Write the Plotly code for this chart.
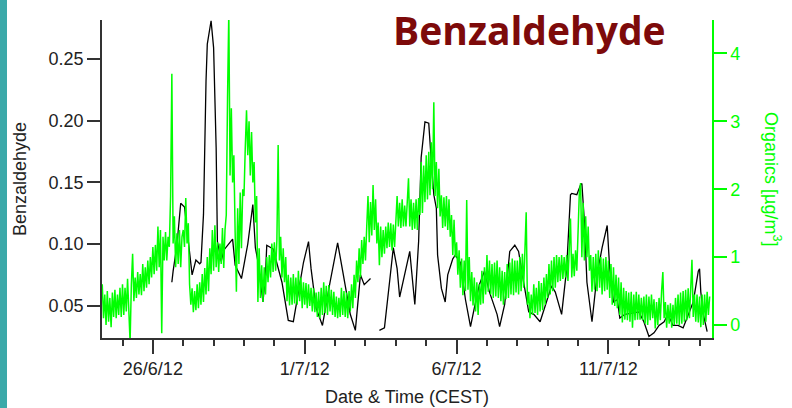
import pandas as pd
import plotly.graph_objects as go

# --- Organics (right axis), hourly values from 24/6/12 08:00 ---
organics_start = "2012-06-24 08:00"
organics = [
    # 24/6 (08:00-23:00)
    0.60, 0.10, 0.45, 0.00, 0.50, 0.05, 0.40, -0.03, 0.48, 0.12, 0.52, 0.10, 0.45, 0.15, 0.55, 0.12,
    # 25/6
    0.60, 0.15, 0.55, 0.20, 0.68, 0.25, -0.25, 0.60, 1.05, 0.35, 0.70, 0.40,
    0.78, 0.45, 0.75, 0.44, 0.90, 0.50, 0.85, 0.55, 0.95, 0.60, 1.00, 0.70,
    # 26/6
    1.15, 0.75, 1.18, 0.80, 1.45, 0.85, 1.40, -0.12, 1.30, 0.95, 1.37, 0.95,
    1.30, 1.15, 1.90, 3.70, 1.20, 1.60, 0.85, 1.35, 0.90, 1.40, 0.85, 1.30,
    # 27/6
    1.40, 1.15, 1.87, 1.20, 1.50, 0.60, 0.30, 0.54, 0.19, 0.50, 0.22, 0.60,
    0.25, 0.63, 0.30, 0.75, 0.34, 0.84, 0.45, 1.00, 0.50, 1.13, 0.75, 1.40,
    # 28/6
    0.80, 1.47, 0.85, 1.22, 0.78, 1.20, 0.90, 1.43, 0.84, 1.40, 1.62, 3.34,
    4.60, 2.20, 3.19, 2.10, 2.50, 1.37, 0.49, 1.72, 0.90, 1.95, 1.13, 2.00,
    # 29/6
    1.90, 2.60, 3.16, 2.50, 3.00, 2.20, 2.84, 2.10, 2.40, 1.51, 1.90, 0.34,
    1.13, 0.40, 0.88, 0.34, 0.85, 0.45, 1.00, 0.63, 1.03, 0.70, 1.20, 0.78,
    # 30/6
    1.22, 0.80, 1.25, 2.65, 0.95, 1.30, 0.70, 1.13, 0.63, 1.00, 0.35, 0.74,
    0.29, 0.70, 0.30, 0.75, 0.32, 0.70, 0.30, 0.80, 0.35, 0.70, 0.25, 0.63,
    # 1/7
    0.30, 0.62, 0.25, 0.60, 0.28, 0.55, 0.20, 0.54, 0.19, 0.48, 0.12, 0.49,
    0.10, 0.55, 0.15, 0.63, 0.18, 0.58, 0.15, 0.59, 0.20, 0.52, 0.15, 0.49,
    # 2/7
    0.12, 0.42, 0.10, 0.40, 0.12, 0.55, 0.15, 0.50, 0.12, 0.48, 0.10, 0.50,
    0.20, 0.60, 0.25, 0.74, 0.40, 0.95, 0.63, 1.13, 0.70, 1.25, 0.90, 1.30,
    # 3/7
    0.95, 1.45, 1.90, 1.22, 1.81, 1.32, 2.06, 1.40, 1.85, 1.20, 1.51, 0.88,
    1.45, 1.00, 1.40, 1.05, 1.45, 1.13, 1.51, 1.15, 1.50, 1.10, 1.48, 1.15,
    # 4/7
    1.45, 1.90, 1.45, 1.80, 1.43, 1.85, 1.45, 1.76, 1.45, 1.80, 2.16, 1.45,
    1.85, 1.40, 1.80, 1.42, 1.85, 1.40, 1.87, 1.62, 2.40, 1.65, 2.35, 1.81,
    # 5/7
    2.50, 1.85, 2.55, 1.91, 2.69, 2.00, 3.28, 1.90, 2.40, 1.72, 2.30, 1.60,
    1.91, 1.43, 1.88, 1.45, 1.90, 1.40, 1.85, 1.30, 1.62, 1.03, 1.55, 1.00,
    # 6/7
    1.22, 0.74, 1.10, 0.55, 0.98, 0.44, 0.95, 0.50, 1.84, 0.52, 1.00, 0.35,
    0.78, 0.29, 0.70, 0.20, 0.63, 0.15, 0.60, 0.30, 0.80, 0.32, 0.85, 0.45,
    # 7/7
    1.03, 0.49, 0.95, 0.45, 0.90, 0.40, 0.92, 0.42, 0.95, 0.40, 0.85, 0.35,
    0.80, 0.30, 0.78, 0.38, 0.90, 0.40, 0.92, 0.45, 0.98, 0.44, 0.95, 0.48,
    # 8/7
    0.95, 0.45, 1.00, 0.50, 1.05, 0.55, 1.00, 1.66, 0.30, 0.49, 0.10, 0.45,
    0.15, 0.60, 0.18, 0.55, 0.15, 0.65, 0.20, 0.62, 0.22, 0.70, 0.30, 0.75,
    # 9/7
    0.40, 0.90, 0.45, 0.95, 0.50, 1.00, 0.55, 1.03, 0.63, 1.00, 0.65, 1.03,
    0.68, 1.00, 0.70, 1.03, 0.65, 1.10, 1.57, 0.70, 1.05, 0.72, 1.10, 0.80,
    # 10/7
    1.30, 1.95, 2.09, 1.00, 1.80, 0.95, 1.60, 1.00, 1.45, 0.80, 1.03, 0.49,
    1.00, 0.52, 1.05, 0.50, 1.10, 0.55, 1.00, 0.45, 0.98, 0.50, 1.00, 0.52,
    # 11/7
    0.95, 0.40, 0.90, 0.30, 0.85, 0.28, 0.74, 0.25, 0.70, 0.15, 0.63, 0.04,
    0.55, 0.08, 0.50, 0.07, 0.48, 0.05, 0.49, -0.04, 0.45, 0.07, 0.49, 0.08,
    # 12/7
    0.45, 0.08, 0.40, 0.07, 0.42, 0.02, 0.45, 0.00, 0.42, 0.07, 0.45, 0.10,
    0.38, -0.05, 0.34, 0.00, 0.40, 0.07, 0.50, 0.78, 0.10, 0.34, -0.04, 0.30,
    # 13/7
    0.02, 0.32, -0.04, 0.30, 0.00, 0.40, 0.02, 0.45, 0.00, 0.48, 0.02, 0.50,
    0.05, 0.52, 0.07, 0.54, 0.10, 0.50, 0.96, 0.12, 0.45, 0.05, 0.45, 0.04,
    # 14/7 (00:00-08:00)
    0.42, -0.03, 0.45, 0.00, 0.45, 0.05, 0.49, 0.15, 0.42,
]
organics_time = pd.date_range(organics_start, periods=len(organics), freq="1h")

# --- Benzaldehyde (left axis) ---
benz_time = [
    "2012-06-26 15:00", "2012-06-26 16:00", "2012-06-26 19:00", "2012-06-26 22:00",
    "2012-06-27 01:00", "2012-06-27 03:00", "2012-06-27 05:00", "2012-06-27 07:00",
    "2012-06-27 10:00", "2012-06-27 13:00", "2012-06-27 14:00", "2012-06-27 16:00",
    "2012-06-27 18:00", "2012-06-27 19:00", "2012-06-27 22:00", "2012-06-28 00:00",
    "2012-06-28 02:00", "2012-06-28 03:00", "2012-06-28 06:00", "2012-06-28 08:00",
    "2012-06-28 15:00", "2012-06-28 17:00", "2012-06-28 22:00", "2012-06-29 03:00",
    "2012-06-29 07:00", "2012-06-29 09:00", "2012-06-29 11:00", "2012-06-29 15:00",
    "2012-06-29 17:00", "2012-06-29 18:00", "2012-06-29 23:00", "2012-06-30 06:00",
    "2012-06-30 11:00", "2012-06-30 15:00", "2012-06-30 19:00", "2012-06-30 23:00",
    "2012-07-01 03:00", "2012-07-01 05:00", "2012-07-01 09:00", "2012-07-01 14:00",
    "2012-07-01 20:00", "2012-07-02 02:00", "2012-07-02 06:00", "2012-07-02 12:00",
    "2012-07-02 16:00", "2012-07-02 20:00", "2012-07-02 23:00", "2012-07-03 04:00",
    "2012-07-03 07:00",
    "2012-07-03 11:00", "2012-07-03 15:00", "2012-07-03 19:00", "2012-07-03 22:00",
    "2012-07-04 01:00", "2012-07-04 03:00", "2012-07-04 11:00", "2012-07-04 15:00",
    "2012-07-04 18:00", "2012-07-04 20:00", "2012-07-04 23:00", "2012-07-05 02:00",
    "2012-07-05 04:00", "2012-07-05 06:00", "2012-07-05 08:00", "2012-07-05 09:00",
    "2012-07-05 12:00", "2012-07-05 15:00", "2012-07-05 17:00", "2012-07-05 21:00",
    "2012-07-05 23:00", "2012-07-06 03:00", "2012-07-06 07:00", "2012-07-06 11:00",
    "2012-07-06 14:00", "2012-07-06 18:00", "2012-07-06 22:00", "2012-07-07 02:00",
    "2012-07-07 08:00", "2012-07-07 10:00", "2012-07-07 14:00", "2012-07-07 18:00",
    "2012-07-07 22:00", "2012-07-08 01:00", "2012-07-08 05:00", "2012-07-08 09:00",
    "2012-07-08 13:00", "2012-07-08 18:00", "2012-07-08 23:00", "2012-07-09 03:00",
    "2012-07-09 06:00", "2012-07-09 11:00", "2012-07-09 15:00", "2012-07-09 18:00",
    "2012-07-09 19:00", "2012-07-09 23:00", "2012-07-10 02:00", "2012-07-10 03:00",
    "2012-07-10 05:00", "2012-07-10 07:00", "2012-07-10 11:00", "2012-07-10 15:00",
    "2012-07-10 19:00", "2012-07-10 23:00", "2012-07-11 01:00", "2012-07-11 04:00",
    "2012-07-11 07:00", "2012-07-11 09:00", "2012-07-11 13:00", "2012-07-11 18:00",
    "2012-07-12 00:00", "2012-07-12 04:00", "2012-07-12 08:00", "2012-07-12 12:00",
    "2012-07-12 16:00", "2012-07-12 20:00", "2012-07-12 23:00", "2012-07-13 03:00",
    "2012-07-13 07:00", "2012-07-13 11:00", "2012-07-13 15:00", "2012-07-13 19:00",
    "2012-07-13 23:00", "2012-07-14 00:00", "2012-07-14 01:00", "2012-07-14 03:00",
    "2012-07-14 06:00",
]
benz = [
    0.069, 0.078, 0.099, 0.133,
    0.130, 0.113, 0.096, 0.075,
    0.087, 0.084, 0.085, 0.124,
    0.232, 0.262, 0.281, 0.259,
    0.178, 0.102, 0.086, 0.095,
    0.104, 0.083, 0.072, 0.100,
    0.132, 0.097, 0.086, 0.053,
    0.075, 0.099, 0.096, 0.069,
    0.038, 0.037, 0.061, 0.085,
    0.102, 0.080, 0.048, 0.034,
    0.069, 0.101, 0.078, 0.043,
    0.030, 0.075, 0.067, 0.072,
    None,
    0.030, 0.032, 0.069, 0.097,
    0.080, 0.057, 0.094, 0.051,
    0.102, 0.170, 0.199, 0.198,
    0.167, 0.140, 0.129, 0.091,
    0.064, 0.053, 0.075, 0.088,
    0.091, 0.085, 0.055, 0.033,
    0.048, 0.067, 0.078, 0.061,
    0.043, 0.033, 0.051, 0.094,
    0.099, 0.094, 0.069, 0.045,
    0.043, 0.037, 0.053, 0.066,
    0.061, 0.043, 0.080, 0.140,
    0.141, 0.140, 0.148, 0.149,
    0.118, 0.069, 0.037, 0.075,
    0.097, 0.115, 0.080, 0.053,
    0.055, 0.040, 0.043, 0.044,
    0.045, 0.037, 0.025, 0.028,
    0.034, 0.037, 0.043, 0.034,
    0.034, 0.032, 0.043, 0.053,
    0.078, 0.080, 0.061, 0.043,
    0.029,
]

# --- axes ---
x_range = ["2012-06-24 07:48", "2012-07-14 09:50"]
date_ticks = ["2012-06-26", "2012-07-01", "2012-07-06", "2012-07-11"]
date_labels = ["26/6/12", "1/7/12", "6/7/12", "11/7/12"]
benz_range = [0.0238, 0.2816]
benz_ticks = [0.05, 0.10, 0.15, 0.20, 0.25]
org_range = [-0.19, 4.49]
org_ticks = [0, 1, 2, 3, 4]

GREEN = "#00FF00"
AXIS = "#333333"
TEXT = "#222222"
FONT = "Liberation Sans, Arial, sans-serif"

fig = go.Figure()
fig.add_trace(go.Scatter(
    x=benz_time, y=benz, mode="lines", connectgaps=False,
    line=dict(color="#000000", width=1.3), yaxis="y", showlegend=False,
))
fig.add_trace(go.Scatter(
    x=organics_time, y=organics, mode="lines",
    line=dict(color=GREEN, width=1.5), yaxis="y2", showlegend=False,
))

fig.update_layout(
    width=792, height=408,
    margin=dict(l=102, r=80, t=20, b=70),
    paper_bgcolor="white", plot_bgcolor="white",
    font=dict(family=FONT, size=18, color=TEXT),
    xaxis=dict(
        type="date", range=x_range,
        tickmode="array", tickvals=date_ticks, ticktext=date_labels,
        ticks="outside", ticklen=14, tickwidth=1.5, tickcolor=AXIS,
        showline=True, linecolor=AXIS, linewidth=1.5,
        showgrid=False, zeroline=False,
        tickfont=dict(size=18, color=TEXT),
        minor=dict(ticks="outside", ticklen=6, tickwidth=1.5, tickcolor=AXIS,
                   dtick=86400000, tick0="2012-06-24", showgrid=False),
    ),
    yaxis=dict(
        range=benz_range, tickmode="array", tickvals=benz_ticks,
        ticktext=[f"{v:.2f}" for v in benz_ticks],
        ticks="outside", ticklen=13, tickwidth=1.5, tickcolor=AXIS,
        showline=True, linecolor=AXIS, linewidth=1.5,
        showgrid=False, zeroline=False,
        tickfont=dict(size=18, color=TEXT),
    ),
    yaxis2=dict(
        overlaying="y", side="right", range=org_range,
        tickmode="array", tickvals=org_ticks,
        ticks="outside", ticklen=13, tickwidth=1.5, tickcolor=GREEN,
        showline=True, linecolor=GREEN, linewidth=1.5,
        showgrid=False, zeroline=False,
        tickfont=dict(size=18, color=GREEN),
    ),
    shapes=[dict(
        type="rect", xref="paper", yref="paper",
        x0=-102 / 610, x1=-95 / 610, y0=-70 / 318, y1=1 + 20 / 318,
        fillcolor="#3BA9A9", line=dict(width=0), layer="above",
    )],
    annotations=[
        dict(text="<b>Benzaldehyde</b>", xref="paper", yref="paper",
             x=0.7008, y=0.9686, xanchor="center", yanchor="middle",
             showarrow=False, font=dict(family="Open Sans", size=39, color="#7D0A0A")),
        dict(text="Benzaldehyde", xref="paper", yref="paper",
             x=-82 / 610, y=0.5, xanchor="center", yanchor="middle", textangle=-90,
             showarrow=False, font=dict(size=18, color=TEXT)),
        dict(text="Organics [µg/m<sup>3</sup>]", xref="paper", yref="paper",
             x=671 / 610, y=0.5, xanchor="center", yanchor="middle", textangle=90,
             showarrow=False, font=dict(size=18, color=GREEN)),
        dict(text="Date & Time (CEST)", xref="paper", yref="paper",
             x=0.5, y=-59 / 318, xanchor="center", yanchor="middle",
             showarrow=False, font=dict(size=18, color=TEXT)),
    ],
)

fig.write_html("out.html")
